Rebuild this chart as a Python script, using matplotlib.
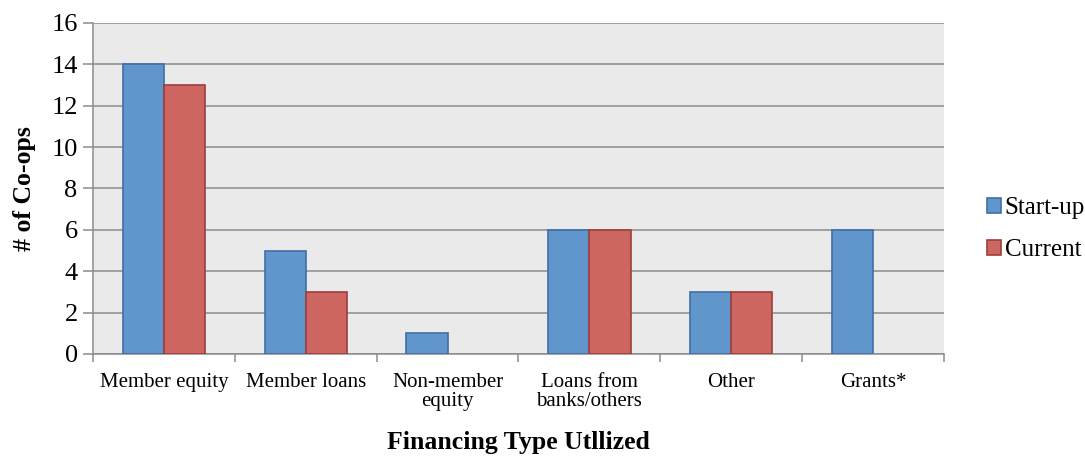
import matplotlib.pyplot as plt
import numpy as np

categories = ["Member equity", "Member loans", "Non-member\nequity",
              "Loans from\nbanks/others", "Other", "Grants*"]
startup = [14, 5, 1, 6, 3, 6]
current = [13, 3, 0, 6, 3, 0]

plt.rcParams['font.family'] = ['Liberation Serif', 'DejaVu Serif']

fig = plt.figure(figsize=(10.85, 4.57), dpi=100)
ax = fig.add_axes([0.0857, 0.2254, 0.7843, 0.7243])
ax.set_facecolor('#EAEAEA')

x = np.arange(len(categories))
w = 0.29
lw_s = [1.2 if v > 0 else 0 for v in startup]
lw_c = [1.2 if v > 0 else 0 for v in current]
ax.bar(x - w / 2, startup, w, color='#6096CB', edgecolor='#3F6FA6', linewidth=lw_s, label='Start-up', zorder=3)
ax.bar(x + w / 2, current, w, color='#CD6560', edgecolor='#9C3E3B', linewidth=lw_c, label='Current', zorder=3)

ax.set_xlim(-0.5, len(categories) - 0.5)
ax.set_ylim(0, 16)
ax.set_yticks(range(0, 17, 2))
ax.yaxis.grid(True, color='#8C8C8C', linewidth=1.1, zorder=0)
ax.set_axisbelow(True)

# category boundaries as major ticks, labels on minor ticks
ax.set_xticks(np.arange(-0.5, len(categories), 1.0))
ax.set_xticklabels([])
ax.set_xticks(x, minor=True)
ax.set_xticklabels(categories, minor=True, fontsize=15, linespacing=1.0)
ax.tick_params(axis='x', which='minor', length=0, pad=14)
ax.tick_params(axis='x', which='major', length=6, color='#8C8C8C', width=1.1)
ax.tick_params(axis='y', length=7, color='#8C8C8C', width=1.1, labelsize=19, pad=4)

for s in ['top', 'right']:
    ax.spines[s].set_visible(False)
for s in ['left', 'bottom']:
    ax.spines[s].set_color('#8C8C8C')
    ax.spines[s].set_linewidth(1.1)

ax.set_ylabel('# of Co-ops', fontsize=18.5, fontweight='bold', labelpad=11)
ax.set_xlabel('Financing Type Utllized', fontsize=18.5, fontweight='bold', labelpad=14)

fig.legend(loc='center left', bbox_to_anchor=(0.9097, 0.499), frameon=False,
           fontsize=18, handlelength=0.55, handleheight=0.55, handletextpad=0.15,
           labelspacing=0.8, borderpad=0, borderaxespad=0)

plt.savefig('out.png', dpi=100)
